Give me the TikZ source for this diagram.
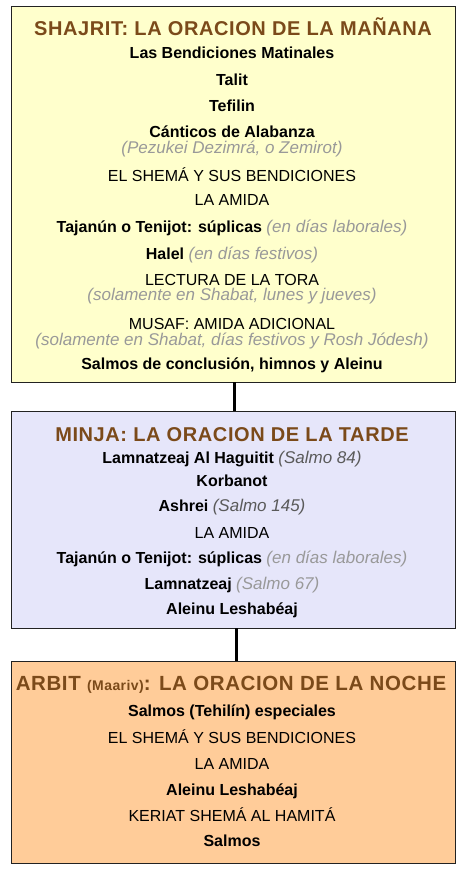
\documentclass[tikz,border=0pt]{standalone}
\usepackage{fontspec}
\setmainfont{Liberation Sans}
\newfontfamily\titlefont[LetterSpace=3]{Liberation Sans}
\definecolor{yellowfill}{HTML}{FFFFCC}
\definecolor{lavfill}{HTML}{E6E6FA}
\definecolor{peachfill}{HTML}{FFCC99}
\definecolor{titlebrown}{HTML}{7B4A1A}
\definecolor{subgray}{HTML}{999999}
\definecolor{subdark}{HTML}{5A5A5A}
\definecolor{boxline}{HTML}{222222}
\newcommand\gi[1]{{\normalfont\itshape\fontsize{17}{17}\selectfont\color{subgray}#1}}
\newcommand\gd[1]{{\normalfont\itshape\fontsize{17}{17}\selectfont\color{subdark}#1}}
\begin{document}
\begin{tikzpicture}[x=1pt,y=-1pt,
  box/.style={draw=boxline,line width=1pt,minimum width=444pt,inner sep=0pt,outer sep=0pt},
  ttl/.style={anchor=base,inner sep=0pt,text=titlebrown,font=\titlefont\bfseries\fontsize{20}{20}\selectfont},
  bline/.style={anchor=base,inner sep=0pt,font=\bfseries\fontsize{16}{16}\selectfont},
  rline/.style={anchor=base,inner sep=0pt,text depth=0pt,font=\fontsize{16}{16}\selectfont},
  subline/.style={anchor=base,inner sep=0pt,text=subgray,font=\itshape\fontsize{17}{17}\selectfont},
  conn/.style={line width=3pt,draw=black}]
\useasboundingbox (0,0) rectangle (465,875);
% boxes
\node[box,fill=yellowfill,minimum height=375pt] (b1) at (233,194.5) {};
\node[box,fill=lavfill,minimum height=217pt] (b2) at (233,519.5) {};
\node[box,fill=peachfill,minimum height=202pt] (b3) at (233,762) {};
% connectors
\draw[conn] ([xshift=1pt]b1.south) -- ([xshift=1pt]b2.north);
\draw[conn] ([xshift=3pt]b2.south) -- ([xshift=3pt]b3.north);
% box 1
\node[ttl] (t1) at (233,36) {SHAJRIT: LA ORACION DE LA MAÑANA};
\node[bline] (a1) at (232,59) {Las Bendiciones Matinales};
\node[bline] (a2) at (232,85) {Talit};
\node[bline] (a3) at (232,111) {Tefilin};
\node[bline,text depth=0pt] (a4) at (232,137) {Cánticos de Alabanza};
\node[subline] (a4s) at (232,153.5) {(Pezukei Dezimrá, o Zemirot)};
\node[rline] (a5) at (232,181.5) {EL SHEMÁ Y SUS BENDICIONES};
\node[rline] (a6) at (232,205.5) {LA AMIDA};
\node[bline] (a7) at (232,232) {Tajanún o Tenijot: súplicas \gi{(en días laborales)}};
\node[bline] (a8) at (232,259) {Halel \gi{(en días festivos)}};
\node[rline] (a9) at (232,285) {LECTURA DE LA TORA};
\node[subline] (a9s) at (232,300.5) {(solamente en Shabat, lunes y jueves)};
\node[rline] (a10) at (232,329.5) {MUSAF: AMIDA ADICIONAL};
\node[subline] (a10s) at (232,345.5) {(solamente en Shabat, días festivos y Rosh Jódesh)};
\node[bline] (a11) at (232,369) {Salmos de conclusión, himnos y Aleinu};
% box 2
\node[ttl] (t2) at (232,441.5) {MINJA: LA ORACION DE LA TARDE};
\node[bline] (m1) at (232,463) {Lamnatzeaj Al Haguitit \gd{(Salmo 84)}};
\node[bline] (m2) at (232,486.5) {Korbanot};
\node[bline] (m3) at (232,511.5) {Ashrei \gd{(Salmo 145)}};
\node[rline] (m4) at (232,538) {LA AMIDA};
\node[bline] (m5) at (232,563) {Tajanún o Tenijot: súplicas \gi{(en días laborales)}};
\node[bline] (m6) at (232,589.5) {Lamnatzeaj \gi{(Salmo 67)}};
\node[bline] (m7) at (232,614.5) {Aleinu Leshabéaj};
% box 3
\node[ttl,font=\titlefont\bfseries\fontsize{20.5}{20.5}\selectfont] (t3) at (231,690.5) {ARBIT {\fontsize{14}{14}\selectfont(Maariv)}: LA ORACION DE LA NOCHE};
\node[bline] (n1) at (232,716.5) {Salmos (Tehilín) especiales};
\node[rline] (n2) at (232,743) {EL SHEMÁ Y SUS BENDICIONES};
\node[rline] (n3) at (232,769) {LA AMIDA};
\node[bline] (n4) at (232,795) {Aleinu Leshabéaj};
\node[rline] (n5) at (232,821.5) {KERIAT SHEMÁ AL HAMITÁ};
\node[bline] (n6) at (232,846.5) {Salmos};
\end{tikzpicture}
\end{document}
